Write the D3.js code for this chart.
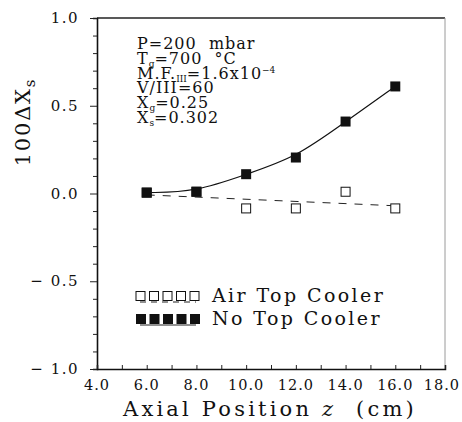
<!DOCTYPE html>
<html>
<head>
<meta charset="utf-8">
<script src="https://cdn.jsdelivr.net/npm/d3@7"></script>
<style>
  html, body { margin: 0; padding: 0; background: #fff; }
  svg { display: block; }
  text { fill: #111; white-space: pre; }
</style>
</head>
<body>
<svg id="chart" width="462" height="422"></svg>
<script>
// Axial position of each measurement (cm)
const positions = [6, 8, 10, 12, 14, 16];
// 100·ΔXs without a top cooler (filled squares)
const noCooler = [0.005, 0.01, 0.11, 0.205, 0.41, 0.61];
// 100·ΔXs with an air top cooler (open squares)
const airCooler = [0.005, 0.01, -0.085, -0.085, 0.01, -0.085];
// Straight-line fit of the air-cooled series (end points)
const airFitX = [6, 16];
const airFitY = [-0.008, -0.07];

const xTicks = [4, 6, 8, 10, 12, 14, 16, 18];
const xMinor = [5, 7, 9, 11, 13, 15, 17];
const yTicks = [-1.0, -0.5, 0.0, 0.5, 1.0];
const yMinor = d3.range(-10, 11).map(d => d / 10);

const conditions = [
  [["P=200  mbar", ""]],
  [["T", ""], ["g", "sub"], ["=700  °C", ""]],
  [["M.F.", ""], ["III", "sub"], ["=1.6x10", ""], ["−4", "sup"]],
  [["V/III=60", ""]],
  [["X", ""], ["g", "sub"], ["=0.25", ""]],
  [["X", ""], ["s", "sub"], ["=0.302", ""]]
];
const legendItems = [
  { label: "Air Top Cooler", filled: false, dashed: true },
  { label: "No Top Cooler", filled: true, dashed: false }
];

const W = 462;
const svg = d3.select("#chart");
const x = d3.scaleLinear().domain([4, 18]).range([97, 445]);
const y = d3.scaleLinear().domain([-1, 1]).range([369, 18]);
const serif = "'DejaVu Serif', 'Liberation Serif', serif";

// Frame
svg.append("line").attr("x1", x(4)).attr("x2", x(18)).attr("y1", y(1)).attr("y2", y(1))
  .attr("stroke", "#222").attr("stroke-width", 1.3);
svg.append("line").attr("x1", x(18)).attr("x2", x(18)).attr("y1", y(1)).attr("y2", y(-1))
  .attr("stroke", "#9a9a9a").attr("stroke-width", 1);

// Y axis: ticks every 0.1 outside, labels at 0.5 steps
const yAxis = d3.axisLeft(y).tickValues(yMinor).tickSize(4).tickFormat("");
const gy = svg.append("g").attr("transform", `translate(${x(4)},0)`).call(yAxis);
gy.select(".domain").attr("stroke", "#111").attr("stroke-width", 1.6);
gy.selectAll(".tick line").attr("stroke", "#222")
  .attr("x2", d => (Math.abs(d * 2 - Math.round(d * 2)) < 1e-6 ? -7 : -4));
svg.append("g").selectAll("text").data(yTicks).join("text")
  .attr("x", 79).attr("y", d => y(d) + 5)
  .attr("text-anchor", "end")
  .attr("font-family", serif).attr("font-size", 15).attr("letter-spacing", 1.5)
  .text(d => (d < 0 ? "− " : "") + Math.abs(d).toFixed(1));

// X axis: ticks pointing inward
const xAxis = d3.axisBottom(x).tickValues(xTicks.concat(xMinor)).tickSize(-4).tickFormat("");
const gx = svg.append("g").attr("transform", `translate(0,${y(-1)})`).call(xAxis);
gx.select(".domain").attr("stroke", "#111").attr("stroke-width", 1.5);
gx.selectAll(".tick line").attr("stroke", "#222");
svg.append("g").selectAll("text").data(xTicks).join("text")
  .attr("x", d => x(d)).attr("y", 390)
  .attr("text-anchor", "middle")
  .attr("font-family", serif).attr("font-size", 14.5).attr("letter-spacing", 1)
  .text(d => d.toFixed(1))
  .each(function () {
    // keep the last label inside the page
    const b = this.getBBox();
    const over = b.x + b.width - (W - 2);
    if (over > 0) d3.select(this).attr("x", +d3.select(this).attr("x") - over);
  });

// Axis titles
const xt = svg.append("text").attr("x", 270).attr("y", 416).attr("text-anchor", "middle")
  .attr("font-family", serif).attr("font-size", 21).attr("letter-spacing", 3.2);
xt.append("tspan").text("Axial Position ");
xt.append("tspan").attr("font-style", "italic").text("z");
xt.append("tspan").text("  (cm)");

const yt = svg.append("text").attr("transform", `translate(30,122) rotate(-90)`)
  .attr("text-anchor", "middle").attr("font-family", serif).attr("font-size", 21).attr("letter-spacing", 1.8);
yt.append("tspan").text("100ΔX");
yt.append("tspan").attr("font-size", 15).attr("dy", 5).text("s");

// Fitted curves
const line = d3.line().x(d => x(d[0])).y(d => y(d[1]));
svg.append("path")
  .datum(airFitX.map((v, i) => [v, airFitY[i]]))
  .attr("d", line).attr("fill", "none")
  .attr("stroke", "#222").attr("stroke-width", 1).attr("stroke-dasharray", "8,8");
svg.append("path")
  .datum(positions.map((v, i) => [v, noCooler[i]]))
  .attr("d", line.curve(d3.curveBasis)).attr("fill", "none")
  .attr("stroke", "#111").attr("stroke-width", 1.2);

// Markers
const openSize = 9, fillSize = 10;
svg.append("g").selectAll("rect").data(positions.map((v, i) => [v, airCooler[i]])).join("rect")
  .attr("x", d => x(d[0]) - openSize / 2).attr("y", d => y(d[1]) - openSize / 2)
  .attr("width", openSize).attr("height", openSize)
  .attr("fill", "#fff").attr("stroke", "#111").attr("stroke-width", 1);
svg.append("g").selectAll("rect").data(positions.map((v, i) => [v, noCooler[i]])).join("rect")
  .attr("x", d => x(d[0]) - fillSize / 2).attr("y", d => y(d[1]) - fillSize / 2)
  .attr("width", fillSize).attr("height", fillSize)
  .attr("fill", "#111");

// Run conditions
const block = svg.append("g").attr("font-family", serif).attr("font-size", 16).attr("letter-spacing", 1);
conditions.forEach((parts, i) => {
  const t = block.append("text").attr("x", 137).attr("y", 49 + i * 14.8);
  parts.forEach(([txt, kind]) => {
    const ts = t.append("tspan").text(txt);
    if (kind === "sub") ts.attr("font-size", 9).attr("letter-spacing", 0).attr("baseline-shift", "-3");
    if (kind === "sup") ts.attr("font-size", 9).attr("letter-spacing", 0).attr("baseline-shift", "6");
  });
});

// Legend
const lg = svg.append("g");
legendItems.forEach((item, i) => {
  const cy = 296 + i * 23;
  const row = lg.append("g");
  d3.range(5).forEach(k => {
    const s = item.filled ? 10 : 9;
    row.append("rect").attr("x", 136 + k * 13.5).attr("y", cy - s / 2)
      .attr("width", s).attr("height", s)
      .attr("fill", item.filled ? "#111" : "#fff")
      .attr("stroke", "#111").attr("stroke-width", item.filled ? 0 : 1);
  });
  row.append("line").attr("x1", 140).attr("x2", 196).attr("y1", cy + 6).attr("y2", cy + 6)
    .attr("stroke", "#222").attr("stroke-width", 1)
    .attr("stroke-dasharray", item.dashed ? "6,5" : null);
  row.append("text").attr("x", 212).attr("y", cy + 6)
    .attr("font-family", serif).attr("font-size", 19).attr("letter-spacing", 2.4)
    .text(item.label);
});
</script>
</body>
</html>
